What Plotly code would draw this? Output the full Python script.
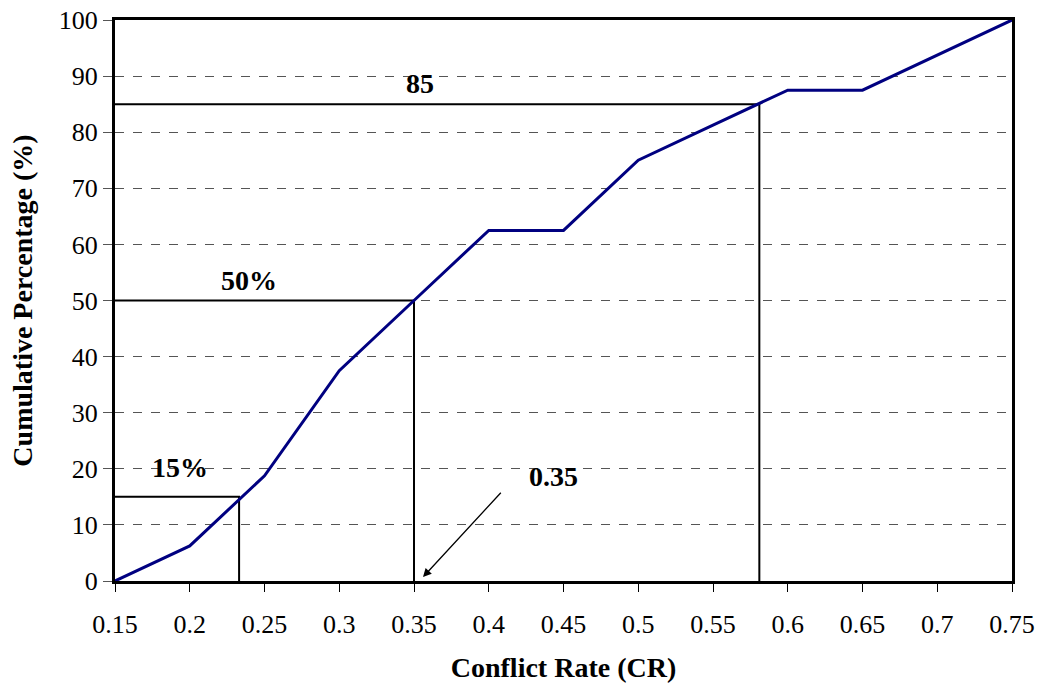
import plotly.graph_objects as go

cr = [0.15, 0.2, 0.25, 0.3, 0.35, 0.4, 0.45, 0.5, 0.55, 0.6, 0.65, 0.7, 0.75]
cum_pct = [0, 6.25, 18.75, 37.5, 50, 62.5, 62.5, 75, 81.25, 87.5, 87.5, 93.75, 100]

x_ticks = [0.15, 0.2, 0.25, 0.3, 0.35, 0.4, 0.45, 0.5, 0.55, 0.6, 0.65, 0.7, 0.75]
x_tick_labels = ["0.15", "0.2", "0.25", "0.3", "0.35", "0.4", "0.45", "0.5", "0.55", "0.6", "0.65", "0.7", "0.75"]
y_ticks = [0, 10, 20, 30, 40, 50, 60, 70, 80, 90, 100]

# percentile reference points (CR value, percentage)
ref_cr = [0.233, 0.35, 0.581]
ref_pct = [15, 50, 85]
ref_labels = ["15%", "50%", "85"]
label_pos = [(0.1935, 20.3), (0.2396, 53.6), (0.354, 88.6)]

font = "Liberation Serif, Times New Roman, serif"

fig = go.Figure()

for c, p in zip(ref_cr, ref_pct):
    fig.add_trace(go.Scatter(x=[0.15, c, c], y=[p, p, 0], mode="lines",
                             line=dict(color="black", width=2), showlegend=False,
                             hoverinfo="skip"))

fig.add_trace(go.Scatter(x=cr, y=cum_pct, mode="lines",
                         line=dict(color="#000080", width=3), showlegend=False))

for (lx, ly), t in zip(label_pos, ref_labels):
    fig.add_annotation(x=lx, y=ly, text="<b>%s</b>" % t, showarrow=False,
                       font=dict(family=font, size=28, color="black"))

fig.add_annotation(x=0.443, y=18.6, text="<b>0.35</b>", showarrow=False,
                   font=dict(family=font, size=28, color="black"))
fig.add_annotation(x=0.356, y=0.7, ax=0.409, ay=16.0, xref="x", yref="y",
                   axref="x", ayref="y", text="", showarrow=True,
                   arrowhead=2, arrowsize=1.3, arrowwidth=1.3, arrowcolor="black")

fig.update_layout(
    width=1039, height=687,
    margin=dict(l=115, r=27, t=20, b=106, autoexpand=False),
    plot_bgcolor="white", paper_bgcolor="white",
    font=dict(family=font, size=26, color="black"),
    xaxis=dict(range=[0.15, 0.75], tickvals=x_ticks, ticktext=x_tick_labels,
               showgrid=False, zeroline=False, showline=True, linecolor="black",
               linewidth=3, mirror=True, ticks="outside", ticklen=8,
               tickcolor="black", tickwidth=1, automargin=False,
               ticklabeloverflow="allow", ticklabelstandoff=10,
               tickfont=dict(family=font, size=26),
               title=dict(text="<b>Conflict Rate (CR)</b>", standoff=20,
                          font=dict(family=font, size=28))),
    yaxis=dict(range=[0, 100], tickvals=y_ticks, showgrid=True,
               gridcolor="#555555", griddash="dash", gridwidth=1,
               zeroline=False, showline=True, linecolor="black",
               linewidth=3, mirror=True, ticks="outside", ticklen=9,
               tickcolor="#555555", tickwidth=1, automargin=False,
               ticklabeloverflow="allow",
               tickfont=dict(family=font, size=26),
               title=dict(text="<b>Cumulative Percentage (%)</b>", standoff=18,
                          font=dict(family=font, size=28))),
)

fig.write_html("out.html", config={"displayModeBar": False},
               post_script="document.body.style.margin='0';document.body.style.overflow='hidden';")
